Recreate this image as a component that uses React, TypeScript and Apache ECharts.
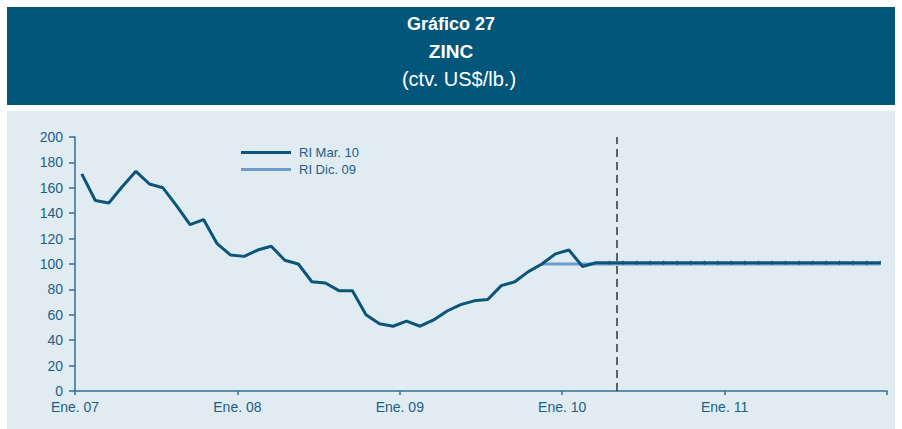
import React, { useEffect, useRef } from "react";
import * as echarts from "echarts";

const yearLabels = ["Ene. 07", "Ene. 08", "Ene. 09", "Ene. 10", "Ene. 11", ""];
const seriesNames = ["RI Mar. 10", "RI Dic. 09"];
// Monthly, Jan 2007 .. Mar 2010 (observed)
const history = [
  171, 150, 148, 161, 173, 163, 160, 146, 131, 135, 116, 107,
  106, 111, 114, 103, 100, 86, 85, 79, 79, 60, 53, 51,
  55, 51, 56, 63, 68, 71, 72, 83, 86, 94, 100, 108,
  111, 98, 101,
];
// Apr 2010 .. Dec 2011 (RI Mar. 10 projection)
const projMar10 = [
  101, 101, 101, 101, 101, 101, 101, 101, 101, 101, 101, 101,
  101, 101, 101, 101, 101, 101, 101, 101, 101,
];
// Nov 2009 .. Dec 2011 (RI Dic. 09 projection)
const projDic09 = [
  100, 100, 100, 100, 100, 100, 100, 100, 100, 100, 100, 100, 100,
  100, 100, 100, 100, 100, 100, 100, 100, 100, 100, 100, 100, 100,
];
const dic09StartIndex = 34; // Nov 2009
const cutoffMonth = 40; // vertical dashed line (start of May 2010)

const TEXT = "#1C5F86";
const AXIS = "#2F7098";

export default function App() {
  const ref = useRef<HTMLDivElement>(null);
  useEffect(() => {
    if (!ref.current) return;
    const chart = echarts.init(ref.current, null, { renderer: "svg" });
    const mar10 = history.concat(projMar10);
    const mar10Data = mar10.map((v, i) =>
      i >= history.length
        ? { value: [i + 0.5, v], symbol: "rect", symbolSize: [1.2, 4] }
        : { value: [i + 0.5, v], symbol: "none" }
    );
    const dic09Data = projDic09.map((v, i) => [dic09StartIndex + i + 0.5, v]);

    chart.setOption({
      animation: false,
      textStyle: { fontFamily: "Liberation Sans" },
      graphic: [
        { type: "rect", shape: { x: 7, y: 7, width: 888, height: 98 }, style: { fill: "#02567A" }, z: -10 },
        { type: "rect", shape: { x: 7, y: 111, width: 888, height: 318 }, style: { fill: "#E1EBF2" }, z: -10 },
        {
          type: "text", x: 451, y: 24,
          style: { text: "Gráfico 27", fill: "#ffffff", font: "bold 18px 'Liberation Sans'", align: "center", verticalAlign: "middle" },
        },
        {
          type: "text", x: 451, y: 51,
          style: { text: "ZINC", fill: "#ffffff", font: "bold 19px 'Liberation Sans'", align: "center", verticalAlign: "middle" },
        },
        {
          type: "text", x: 459, y: 79,
          style: { text: "(ctv. US$/lb.)", fill: "#ffffff", font: "20px 'Liberation Sans'", align: "center", verticalAlign: "middle" },
        },
      ],
      legend: {
        orient: "vertical",
        left: 236,
        top: 141,
        icon: "rect",
        itemWidth: 50,
        itemHeight: 3,
        itemGap: 4,
        data: seriesNames,
        textStyle: { color: TEXT, fontSize: 13, fontFamily: "Liberation Sans", padding: [0, 0, 0, 3] },
      },
      grid: { left: 75, right: 15, top: 137, bottom: 38 },
      xAxis: {
        type: "value",
        min: 0,
        max: 60,
        interval: 12,
        axisLine: { show: true, lineStyle: { color: AXIS, width: 1.5 } },
        axisTick: { show: true, length: 4, lineStyle: { color: AXIS, width: 1.5 } },
        axisLabel: {
          color: TEXT,
          fontSize: 14,
          margin: 9,
          formatter: (v: number) => yearLabels[Math.round(v / 12)] ?? "",
        },
        splitLine: { show: false },
      },
      yAxis: {
        type: "value",
        min: 0,
        max: 200,
        interval: 20,
        axisLine: { show: true, lineStyle: { color: AXIS, width: 1.5 } },
        axisTick: { show: true, length: 6, lineStyle: { color: AXIS, width: 1.5 } },
        axisLabel: { color: TEXT, fontSize: 14, margin: 12 },
        splitLine: { show: false },
      },
      series: [
        {
          name: seriesNames[1],
          type: "line",
          data: dic09Data,
          symbol: "none",
          lineStyle: { color: "#6C9CC9", width: 3 },
          itemStyle: { color: "#6C9CC9" },
          z: 2,
        },
        {
          name: seriesNames[0],
          type: "line",
          data: mar10Data,
          symbol: "none",
          showSymbol: true,
          lineStyle: { color: "#0B5579", width: 3 },
          itemStyle: { color: "#0B5579" },
          z: 3,
          markLine: {
            silent: true,
            symbol: "none",
            label: { show: false },
            lineStyle: { color: "#333333", type: [8, 5], width: 1.5 },
            data: [{ xAxis: cutoffMonth }],
          },
        },
      ],
    });
    return () => chart.dispose();
  }, []);
  return (
    <div
      ref={ref}
      style={{ position: "fixed", left: 0, top: 0, width: 902, height: 429, background: "#ffffff" }}
    />
  );
}
